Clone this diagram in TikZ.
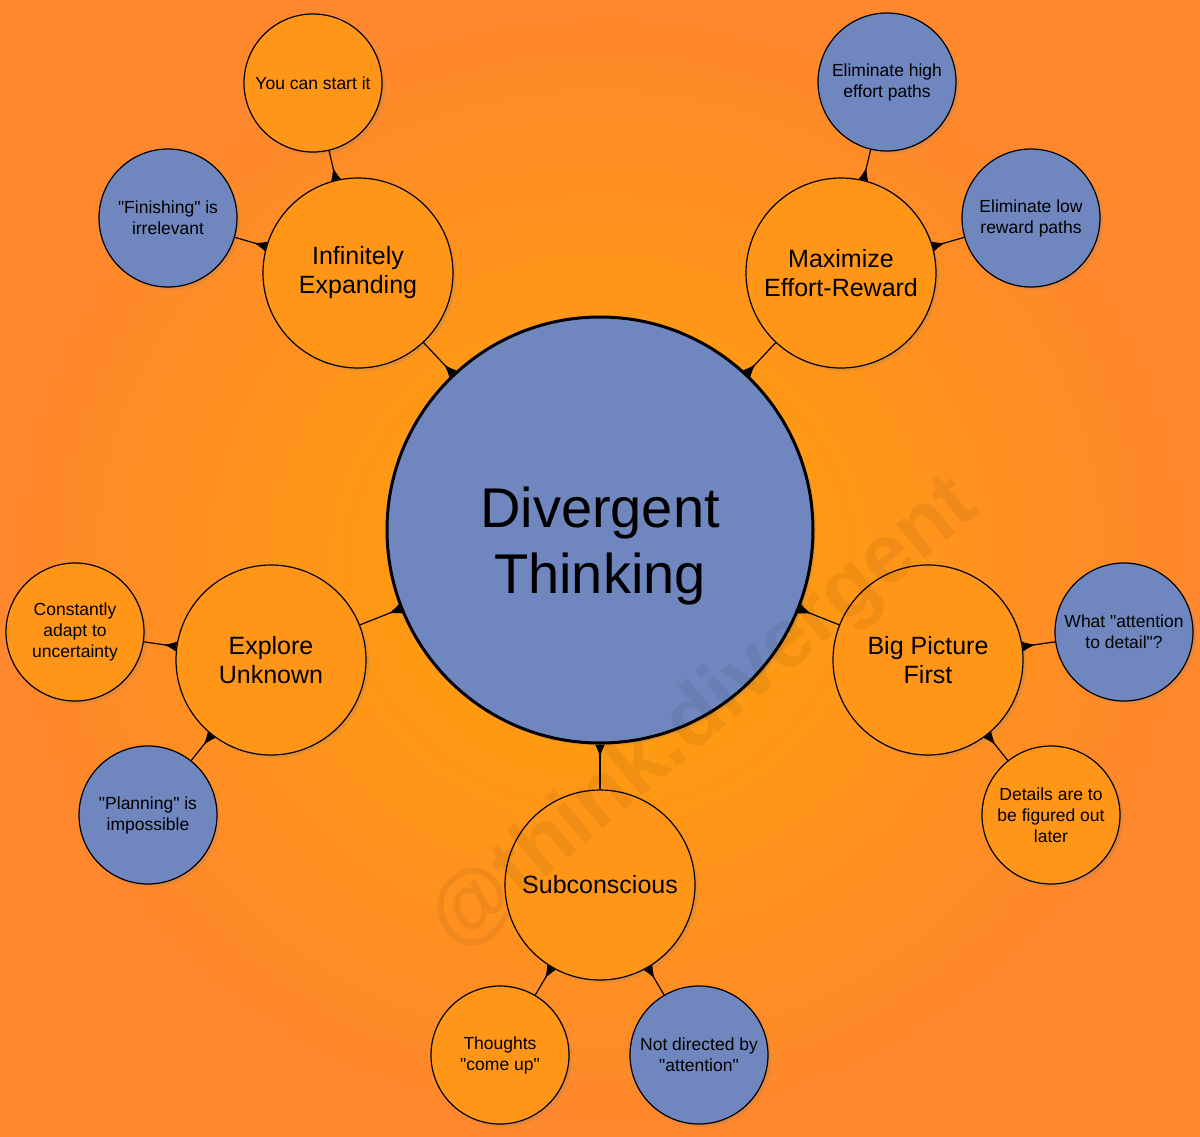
\documentclass[tikz,border=0pt]{standalone}
\usepackage{fontspec}
\setmainfont{Liberation Sans}[Ligatures=TeXOff]
\usetikzlibrary{arrows.meta,shadows}
\definecolor{bl}{RGB}{112,134,190}
\definecolor{orI}{RGB}{255,163,5}
\definecolor{orO}{RGB}{255,135,45}
\begin{document}
\begin{tikzpicture}[x=1pt,y=-1pt,
 base/.style={circle,draw=black,line width=1.2pt,align=center,inner sep=0pt,drop shadow={opacity=0.2,shadow xshift=3pt,shadow yshift=-3pt}},
 leaf/.style={base,minimum size=138pt,font=\fontsize{17.5}{21}\selectfont},
 hub/.style={base,minimum size=190pt,font=\fontsize{25}{29}\selectfont},
 B/.style={fill=bl},O/.style={fill=orI!55!orO},
 con/.style={line width=1.2pt,{Latex[reversed,length=13pt,width=10pt]}-}]
\shade[inner color=orI,outer color=orO] (0,0) rectangle (1200,1136);
\useasboundingbox (0,0) rectangle (1200,1136);
\node[base,B,minimum size=426pt,line width=3pt] (c) at (600,530) {};
\node[align=center,font=\fontsize{56}{66}\selectfont] (ct) at (600,546) {Divergent\\Thinking};
\node[hub,O] (ie) at (358,273) {Infinitely\\Expanding};
\node[hub,O] (mx) at (841,273) {Maximize\\Effort-Reward};
\node[hub,O] (eu) at (271,660) {Explore\\Unknown};
\node[hub,O] (bp) at (928,660) {Big Picture\\First};
\node[hub,O] (sc) at (600,885) {Subconscious};
\node[leaf,O] (l1) at (313,83) {You can start it};
\node[leaf,B] (l2) at (168,218) {"Finishing" is\\irrelevant};
\node[leaf,B] (l3) at (887,82) {Eliminate high\\effort paths};
\node[leaf,B] (l4) at (1031,218) {Eliminate low\\reward paths};
\node[leaf,O] (l5) at (75,632) {Constantly\\adapt to\\uncertainty};
\node[leaf,B] (l6) at (148,815) {"Planning" is\\impossible};
\node[leaf,B] (l7) at (1124,632) {What "attention\\to detail"?};
\node[leaf,O] (l8) at (1051,815) {Details are to\\be figured out\\later};
\node[leaf,O] (l9) at (500,1055) {Thoughts\\"come up"};
\node[leaf,B] (l10) at (699,1055) {Not directed by\\"attention"};
\foreach \a/\b in {c/ie,c/mx,c/eu,c/bp,c/sc,ie/l1,ie/l2,mx/l3,mx/l4,eu/l5,eu/l6,bp/l7,bp/l8,sc/l9,sc/l10}
  \draw[con] (\a) -- (\b);
\node[rotate=40,font=\fontsize{84}{90}\selectfont\bfseries,text=black,opacity=0.06] (wm) at (705,715) {@think.divergent};
\end{tikzpicture}
\end{document}
